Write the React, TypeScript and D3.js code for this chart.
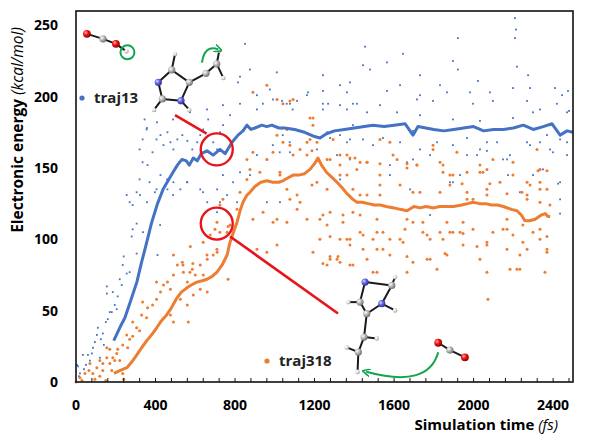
import * as d3 from "d3";
import { useEffect, useRef } from "react";

type Pt = [number, number];

// moving averages (time fs, energy kcal/mol)
const traj13Avg: Pt[] = [
  [190, 29], [220, 38], [246, 45], [275, 57], [306, 70], [330, 84], [356, 98], [381, 112],
  [410, 125], [438, 135], [463, 141], [488, 147], [510, 152], [533, 156], [555, 155], [570, 152],
  [590, 157], [610, 155], [630, 160], [659, 162], [690, 159], [724, 163], [750, 160], [785, 168],
  [815, 173], [840, 176], [860, 180], [880, 177], [900, 178], [935, 180], [960, 179], [985, 180],
  [1020, 178], [1050, 178], [1100, 177], [1150, 175], [1200, 172], [1227, 171], [1260, 174],
  [1300, 176], [1350, 177], [1400, 178], [1450, 179], [1494, 180], [1550, 179], [1600, 180],
  [1655, 181], [1695, 173], [1720, 179], [1760, 178], [1800, 177], [1850, 176], [1900, 177],
  [1950, 178], [2000, 179], [2050, 176], [2100, 177], [2150, 177], [2200, 178], [2250, 180],
  [2300, 177], [2350, 179], [2394, 181], [2435, 173], [2470, 176], [2500, 175],
];

const traj318Avg: Pt[] = [
  [191, 6], [220, 8], [256, 10], [280, 14], [306, 19], [330, 24], [356, 29], [380, 33], [406, 38],
  [430, 43], [456, 47], [480, 52], [508, 59], [530, 63], [558, 66], [580, 68], [608, 70], [635, 71],
  [659, 72], [685, 74], [709, 77], [735, 82], [760, 89], [775, 98], [790, 104], [810, 112],
  [825, 120], [840, 126], [860, 131], [875, 133], [900, 137], [930, 140], [960, 141], [990, 140],
  [1020, 140], [1041, 141], [1065, 143], [1092, 145], [1120, 145], [1150, 146], [1177, 149],
  [1200, 153], [1217, 157], [1235, 152], [1260, 147], [1290, 143], [1313, 140], [1340, 136],
  [1363, 132], [1393, 128], [1413, 126], [1440, 126], [1470, 125], [1500, 124], [1530, 124],
  [1560, 123], [1600, 122], [1630, 121], [1665, 120], [1700, 123], [1730, 122], [1760, 123],
  [1800, 122], [1830, 123], [1860, 123], [1900, 123], [1940, 124], [1970, 125], [1997, 126],
  [2030, 125], [2060, 125], [2090, 124], [2120, 124], [2150, 123], [2190, 121], [2218, 120],
  [2240, 117], [2258, 113], [2280, 113], [2310, 114], [2340, 117], [2360, 118], [2374, 116], [2385, 116],
];

// raw energies
const traj13Points: Pt[] = [
  [5, 12], [20, 6], [35, 19], [60, 19], [80, 20], [85, 24], [70, 15], [105, 33], [110, 38], [135, 34],
  [150, 42], [160, 44], [170, 49], [180, 49], [205, 51], [155, 62], [155, 67], [185, 63], [195, 54],
  [210, 60], [220, 72], [235, 82], [240, 88], [280, 102], [285, 107], [305, 90], [305, 111], [270, 77],
  [255, 76], [230, 68], [410, 89], [120, 17], [50, 12], [10, 11], [15, 4], [40, 9], [95, 28], [125, 30],
  [140, 26],
  [345, 184], [355, 177], [335, 170], [320, 163], [335, 154], [360, 152], [385, 161], [405, 170],
  [425, 173], [440, 166], [460, 175], [475, 168], [490, 163], [510, 170], [535, 173], [560, 169],
  [585, 163], [610, 168], [625, 173], [640, 177], [665, 184], [690, 168], [710, 163], [725, 175],
  [740, 180], [775, 187], [815, 210], [825, 214], [850, 237], [875, 219], [910, 191], [940, 195],
  [975, 205], [1010, 217], [1060, 195], [1090, 191],
  [255, 131], [270, 126], [285, 124], [305, 133], [320, 142], [370, 140], [405, 135], [425, 145],
  [460, 135], [490, 140], [525, 135], [560, 140], [625, 135], [660, 126], [710, 135], [760, 131],
  [790, 140], [825, 147], [910, 159], [960, 156], [990, 166], [1025, 161], [1040, 173], [1075, 168],
  [1090, 177],
  [322, 131], [357, 126], [397, 133], [458, 142], [558, 140], [488, 131], [573, 152], [639, 133],
  [739, 145], [423, 110], [337, 105], [709, 119], [724, 126], [810, 126], [875, 145], [960, 126],
  [1026, 126], [1076, 161], [1162, 168], [1212, 163], [1263, 175], [1328, 173], [1378, 156],
  [1328, 142], [1393, 180],
  [357, 178], [407, 182], [488, 184], [573, 189], [659, 191], [739, 194], [825, 195], [910, 201],
  [991, 198], [1076, 195], [1162, 201], [1242, 195], [1328, 194], [1393, 195],
  [2208, 255], [2213, 247], [2208, 241], [1921, 241], [1454, 235], [1645, 230], [1444, 222],
  [1564, 224], [1242, 215], [1479, 219], [1730, 215], [1896, 225], [1921, 219], [2274, 215],
  [2218, 221], [1328, 208], [1378, 210], [1630, 208], [1831, 208], [2022, 211], [2198, 206],
  [2284, 206], [2409, 206], [2445, 201], [2475, 204],
  [1167, 203], [1242, 204], [1363, 203], [1564, 204], [1730, 201], [1866, 203], [1982, 203], [2082, 203],
  [1036, 197], [1112, 197], [1268, 195], [1413, 195], [1529, 194], [1715, 198], [1796, 197],
  [1997, 195], [2097, 197], [2269, 197], [2419, 195],
  [1242, 191], [1363, 191], [1464, 189], [1615, 189], [1730, 187], [1896, 184], [2032, 183],
  [2198, 185], [2299, 189], [2470, 189], [2334, 191], [2480, 190], [2490, 175],
  [1278, 171], [1363, 168], [1444, 170], [1544, 171], [1630, 168], [1730, 163], [1816, 168],
  [1896, 166], [1967, 171], [2032, 163], [2118, 168], [2183, 159], [2168, 156], [2284, 166],
  [2334, 168], [2384, 163], [2435, 170], [2470, 168], [1313, 159], [1595, 159], [1967, 159],
  [2067, 162], [1932, 145], [1896, 140], [2173, 145], [2470, 159], [2425, 139], [2334, 149], [1695, 156],
  [1494, 166], [1579, 152], [1665, 154], [1680, 135], [1781, 159], [1881, 140], [1967, 147],
  [2017, 159], [2067, 168], [2148, 156], [2269, 168], [2399, 161], [2435, 140], [2435, 128],
  [2435, 118], [1363, 159], [1429, 154], [1393, 119], [1579, 145], [1781, 117], [2299, 145],
  [2349, 149], [2369, 173], [2233, 133], [1378, 170], [1695, 176],
];

const traj318Points: Pt[] = [
  [0, 0], [20, 3], [45, 6], [65, 8], [70, 13], [85, 6], [105, 10], [120, 4], [135, 8], [120, 15],
  [155, 17], [135, 13], [170, 13], [185, 17], [205, 20], [195, 15], [220, 15], [155, 24], [170, 23],
  [210, 23], [235, 6], [235, 26], [260, 24], [270, 30], [285, 32], [255, 33], [305, 38], [320, 36],
  [285, 42], [330, 47], [355, 45], [335, 56], [360, 52], [385, 54], [405, 58], [425, 63], [440, 68],
  [405, 70], [460, 70], [475, 65], [490, 75], [510, 82], [490, 89], [535, 84], [540, 77], [560, 70],
  [585, 79], [600, 75], [625, 82], [640, 75], [660, 86], [690, 89], [560, 54], [565, 42], [490, 42],
  [475, 47], [525, 58], [590, 61], [625, 65], [660, 63], [710, 91], [760, 105], [775, 110], [765, 72],
  [640, 98], [675, 103], [575, 95], [30, 1], [95, 2], [150, 1], [240, 2], [180, 8],
  [538, 82], [573, 77], [588, 83], [659, 89], [709, 93], [709, 112], [699, 107], [724, 105],
  [765, 109], [739, 128], [724, 124], [825, 133], [810, 121], [860, 142], [875, 149], [860, 156],
  [890, 161], [925, 147], [960, 156], [991, 161], [1011, 173], [1041, 168], [1061, 177], [1092, 159],
  [1162, 159], [1177, 170], [1192, 180], [1026, 145], [1061, 135], [1112, 131], [890, 114],
  [941, 119], [991, 112], [1011, 114], [1112, 121], [1162, 114], [1227, 114], [1263, 110],
  [1011, 96], [1227, 100], [1192, 91], [1278, 86], [1313, 86], [1263, 82], [1378, 82], [1328, 100],
  [1378, 100], [910, 93], [960, 91], [1061, 112], [1343, 117], [1393, 119], [1263, 135], [1328, 145],
  [1263, 156], [1328, 159], [1413, 149], [1293, 170],
  [890, 203], [960, 208], [1011, 198], [1041, 195], [1092, 198], [1076, 197], [1177, 185],
  [1192, 185], [1036, 178], [1076, 166], [1127, 163], [1162, 168], [1187, 162], [1212, 168],
  [1026, 147], [1187, 138], [1212, 140], [1278, 156], [1328, 152], [1378, 157], [1429, 154],
  [1464, 154], [1529, 170], [1579, 168], [1529, 145], [1615, 156], [1665, 150], [1715, 152],
  [1796, 163], [1846, 152], [1896, 145], [1942, 139], [2032, 147], [2067, 149], [2133, 140],
  [2198, 145], [2269, 140], [2324, 148], [2334, 140], [2369, 135], [2384, 124], [2334, 126],
  [2269, 131], [2067, 131], [1967, 128], [1831, 133], [1695, 133], [1529, 131], [1429, 131],
  [1242, 117], [1278, 119], [1127, 126], [1076, 128],
  [1328, 84], [1393, 82], [1378, 96], [1429, 105], [1494, 100], [1544, 105], [1579, 100],
  [1630, 100], [1655, 107], [1695, 112], [1745, 105], [1781, 100], [1831, 105], [1881, 105],
  [1932, 105], [1997, 107], [2067, 96], [2097, 105], [2168, 107], [2198, 103], [2248, 98],
  [2334, 100], [2369, 93], [2233, 89], [2168, 93], [2032, 86], [1866, 89], [1781, 86], [1695, 84],
  [1579, 89], [1514, 93], [1464, 86], [1343, 112], [1429, 117], [1514, 114], [1665, 114],
  [1745, 112], [1866, 112], [1947, 112], [2168, 114], [2248, 110], [2334, 107], [2218, 79],
  [2233, 79], [2359, 77], [1665, 77], [1816, 79], [1494, 77],
  [1363, 159], [1403, 157], [1464, 154], [1529, 153], [1595, 159], [1665, 153], [1715, 152],
  [1796, 166], [1831, 154], [1846, 147], [1881, 145], [1916, 161], [1967, 147], [2032, 152],
  [2047, 147], [2082, 139], [2097, 156], [2198, 154], [2334, 149], [2369, 148], [2319, 163],
  [2284, 138], [2243, 133], [2168, 132], [2067, 135], [1997, 128], [1967, 133], [1881, 138],
  [1730, 133], [1630, 138], [1529, 138], [1464, 131], [1393, 135], [1363, 145], [2269, 128],
  [2334, 135],
  [1278, 102], [1363, 100], [1444, 103], [1514, 105], [1645, 98], [1766, 103], [1846, 100],
  [1896, 105], [1947, 104], [2017, 95], [2067, 98], [2148, 107], [2299, 105], [2369, 102],
  [1242, 83], [1278, 88], [1318, 88], [1514, 77], [2067, 77], [2183, 79], [2072, 58], [1444, 93],
  [1544, 93], [1665, 88], [1766, 86], [1856, 90], [1947, 96], [2269, 93], [2369, 91],
];

const xTickValues = [0, 400, 800, 1200, 1600, 2000, 2400];
const yTickValues = [0, 50, 100, 150, 200, 250];

const BLUE = "#4472C4";
const ORANGE = "#ED7D31";
const RED = "#E8141C";
const GREEN = "#12A550";

type Atom = { id: string; el: "C" | "H" | "N" | "O"; dx: number; dy: number };
type Molecule = { at: Pt; atoms: Atom[]; bonds: [string, string][] };

// molecule sketches, anchored at a (time, energy) spot, atoms offset in px
const molecules: Molecule[] = [
  {
    at: [55, 244],
    atoms: [
      { id: "o1", el: "O", dx: 0, dy: 0 },
      { id: "c", el: "C", dx: 16, dy: 5 },
      { id: "o2", el: "O", dx: 29, dy: 10 },
      { id: "h", el: "H", dx: 39.5, dy: 17.5 },
    ],
    bonds: [["o1", "c"], ["c", "o2"], ["o2", "h"]],
  },
  {
    at: [414, 210],
    atoms: [
      { id: "ht", el: "H", dx: 16.7, dy: -28.4 },
      { id: "ct", el: "C", dx: 13.4, dy: -12.4 },
      { id: "cr", el: "C", dx: 31, dy: 0 },
      { id: "nl", el: "N", dx: 0, dy: 0 },
      { id: "cb", el: "C", dx: 4, dy: 16.6 },
      { id: "nr", el: "N", dx: 22.7, dy: 18.3 },
      { id: "hn", el: "H", dx: 31, dy: 27.6 },
      { id: "hb", el: "H", dx: -4.3, dy: 27.6 },
      { id: "c1", el: "C", dx: 47.7, dy: -9 },
      { id: "c2", el: "C", dx: 58.4, dy: -18.4 },
      { id: "h2a", el: "H", dx: 61, dy: -31.7 },
      { id: "h2b", el: "H", dx: 65, dy: -4.4 },
    ],
    bonds: [
      ["ct", "nl"], ["nl", "cb"], ["cb", "nr"], ["nr", "cr"], ["cr", "ct"], ["ct", "ht"],
      ["nr", "hn"], ["cb", "hb"], ["cr", "c1"], ["c1", "c2"], ["c2", "h2a"], ["c2", "h2b"],
    ],
  },
  {
    at: [1454, 70],
    atoms: [
      { id: "nt", el: "N", dx: 0, dy: 0 },
      { id: "ctr", el: "C", dx: 26.7, dy: 3.3 },
      { id: "ht", el: "H", dx: 30, dy: -5 },
      { id: "nr", el: "N", dx: 16.7, dy: 21.6 },
      { id: "hn", el: "H", dx: 30, dy: 28.3 },
      { id: "cl", el: "C", dx: -5, dy: 20 },
      { id: "hl", el: "H", dx: -16.7, dy: 20 },
      { id: "cb", el: "C", dx: 1.7, dy: 31.6 },
      { id: "c1", el: "C", dx: -1, dy: 55 },
      { id: "h1", el: "H", dx: 11.7, dy: 56.3 },
      { id: "c2", el: "C", dx: -6.7, dy: 70 },
      { id: "h2", el: "H", dx: -18.3, dy: 65.3 },
      { id: "he", el: "H", dx: -7.5, dy: 89.8 },
    ],
    bonds: [
      ["nt", "ctr"], ["ctr", "nr"], ["nr", "cb"], ["cb", "cl"], ["cl", "nt"], ["ctr", "ht"],
      ["nr", "hn"], ["cl", "hl"], ["cb", "c1"], ["c1", "h1"], ["c1", "c2"], ["c2", "h2"], ["c2", "he"],
    ],
  },
  {
    at: [1822, 27.5],
    atoms: [
      { id: "o1", el: "O", dx: 0, dy: 0 },
      { id: "c", el: "C", dx: 11.7, dy: 7.3 },
      { id: "o2", el: "O", dx: 26.7, dy: 14.6 },
    ],
    bonds: [["o1", "c"], ["c", "o2"]],
  },
];

const atomStyle: Record<string, { r: number; fill: string }> = {
  C: { r: 3.6, fill: "url(#gC)" },
  H: { r: 2.3, fill: "url(#gH)" },
  N: { r: 3.6, fill: "url(#gN)" },
  O: { r: 3.9, fill: "url(#gO)" },
};

// red highlight circles and connector lines, in (time, energy)
const highlightCircles: Pt[] = [[708, 163], [708, 111]];
const connectorLines: [Pt, Pt][] = [
  [[498, 187], [657, 174]],
  [[775, 102], [1318, 48]],
];

const Chart: React.FC = () => {
  const ref = useRef<SVGSVGElement | null>(null);

  useEffect(() => {
    if (!ref.current) return;
    const svg = d3.select(ref.current);
    svg.selectAll("*").remove();

    const x = d3.scaleLinear().domain([0, 2500]).range([76, 573]);
    const y = d3.scaleLinear().domain([0, 260]).range([382, 11]);
    const font = "'Open Sans', 'Noto Sans', sans-serif";

    const defs = svg.append("defs");
    const grad = (id: string, hi: string, mid: string, lo: string) => {
      const g = defs.append("radialGradient").attr("id", id).attr("cx", "35%").attr("cy", "35%").attr("r", "70%");
      g.append("stop").attr("offset", "0%").attr("stop-color", hi);
      g.append("stop").attr("offset", "45%").attr("stop-color", mid);
      g.append("stop").attr("offset", "100%").attr("stop-color", lo);
    };
    grad("gC", "#ffffff", "#b8b8b8", "#6a6a6a");
    grad("gH", "#ffffff", "#e4e4e4", "#9a9a9a");
    grad("gN", "#d8d8ff", "#6464e0", "#2a2a90");
    grad("gO", "#ffb0b0", "#ee1010", "#8a0000");

    defs
      .append("marker")
      .attr("id", "arrowG")
      .attr("viewBox", "0 0 10 10")
      .attr("refX", 5)
      .attr("refY", 5)
      .attr("markerWidth", 4)
      .attr("markerHeight", 4)
      .attr("orient", "auto-start-reverse")
      .append("path")
      .attr("d", "M0,0 L10,5 L0,10")
      .attr("fill", "none")
      .attr("stroke", GREEN)
      .attr("stroke-width", 2);

    // scatter
    svg
      .append("g")
      .selectAll("rect")
      .data(traj13Points)
      .join("rect")
      .attr("x", (d) => x(d[0]) - 0.9)
      .attr("y", (d) => y(d[1]) - 0.9)
      .attr("width", 1.8)
      .attr("height", 1.8)
      .attr("fill", BLUE);

    svg
      .append("g")
      .selectAll("circle")
      .data(traj318Points)
      .join("circle")
      .attr("cx", (d) => x(d[0]))
      .attr("cy", (d) => y(d[1]))
      .attr("r", 1.5)
      .attr("fill", ORANGE);

    const line = d3
      .line<Pt>()
      .x((d) => x(d[0]))
      .y((d) => y(d[1]));

    svg.append("path").datum(traj13Avg).attr("d", line).attr("fill", "none")
      .attr("stroke", BLUE).attr("stroke-width", 3).attr("stroke-linejoin", "round");
    svg.append("path").datum(traj318Avg).attr("d", line).attr("fill", "none")
      .attr("stroke", ORANGE).attr("stroke-width", 3).attr("stroke-linejoin", "round");

    // frame
    svg.append("rect").attr("x", 76).attr("y", 11).attr("width", 497).attr("height", 371)
      .attr("fill", "none").attr("stroke", "#111").attr("stroke-width", 1.6);

    // minor ticks on the x axis, pointing in
    svg
      .append("g")
      .selectAll("line")
      .data(d3.range(80, 2500, 80))
      .join("line")
      .attr("x1", (d) => x(d))
      .attr("x2", (d) => x(d))
      .attr("y1", 382)
      .attr("y2", 378)
      .attr("stroke", "#111")
      .attr("stroke-width", 1);

    svg
      .append("g")
      .selectAll("text")
      .data(xTickValues)
      .join("text")
      .attr("x", (d) => x(d))
      .attr("y", 410)
      .attr("text-anchor", "middle")
      .attr("font-family", font)
      .attr("font-weight", 700)
      .attr("font-size", 14)
      .text((d) => d);

    svg
      .append("g")
      .selectAll("text")
      .data(yTickValues)
      .join("text")
      .attr("x", 58)
      .attr("y", (d) => y(d) + 5)
      .attr("text-anchor", "end")
      .attr("font-family", font)
      .attr("font-weight", 700)
      .attr("font-size", 14)
      .text((d) => d);

    // axis titles
    const xt = svg.append("text").attr("x", 558).attr("y", 430).attr("text-anchor", "end")
      .attr("font-family", font).attr("font-size", 15);
    xt.append("tspan").attr("font-weight", 700).text("Simulation time ");
    xt.append("tspan").attr("font-style", "italic").text("(fs)");

    const yt = svg.append("text").attr("transform", "translate(23,130) rotate(-90)")
      .attr("text-anchor", "middle").attr("font-family", font).attr("font-size", 15.5);
    yt.append("tspan").attr("font-weight", 700).text("Electronic energy ");
    yt.append("tspan").attr("font-style", "italic").text("(kcal/mol)");

    // legend labels
    const legend = [
      { name: "traj13", color: BLUE, at: [82, 98] },
      { name: "traj318", color: ORANGE, at: [267, 361] },
    ];
    legend.forEach((l) => {
      svg.append("circle").attr("cx", l.at[0]).attr("cy", l.at[1]).attr("r", 2.6).attr("fill", l.color);
      svg.append("text").attr("x", l.at[0] + 12).attr("y", l.at[1] + 5).attr("font-family", font)
        .attr("font-weight", 700).attr("font-size", 15).attr("fill", "#222").text(l.name);
    });

    // molecules
    molecules.forEach((m) => {
      const ox = x(m.at[0]);
      const oy = y(m.at[1]);
      const pos = new Map(m.atoms.map((a) => [a.id, [ox + a.dx, oy + a.dy]]));
      const g = svg.append("g");
      g.selectAll("line")
        .data(m.bonds)
        .join("line")
        .attr("x1", (b) => pos.get(b[0])![0])
        .attr("y1", (b) => pos.get(b[0])![1])
        .attr("x2", (b) => pos.get(b[1])![0])
        .attr("y2", (b) => pos.get(b[1])![1])
        .attr("stroke", "#1a1a1a")
        .attr("stroke-width", 2);
      g.selectAll("circle")
        .data(m.atoms)
        .join("circle")
        .attr("cx", (a) => ox + a.dx)
        .attr("cy", (a) => oy + a.dy)
        .attr("r", (a) => atomStyle[a.el].r)
        .attr("fill", (a) => atomStyle[a.el].fill);
    });

    // green marks: ring around H, rotation arrow, transfer arrow
    const m0x = x(molecules[0].at[0]);
    const m0y = y(molecules[0].at[1]);
    svg.append("circle").attr("cx", m0x + 40.5).attr("cy", m0y + 18.5).attr("r", 7)
      .attr("fill", "none").attr("stroke", GREEN).attr("stroke-width", 2);

    const m1x = x(molecules[1].at[0]);
    const m1y = y(molecules[1].at[1]);
    svg.append("path")
      .attr("d", `M${m1x + 43.7},${m1y - 19.7} Q${m1x + 46},${m1y - 38} ${m1x + 60},${m1y - 33}`)
      .attr("fill", "none").attr("stroke", GREEN).attr("stroke-width", 2).attr("marker-end", "url(#arrowG)");

    const m3x = x(molecules[3].at[0]);
    const m3y = y(molecules[3].at[1]);
    svg.append("path")
      .attr("d", `M${m3x},${m3y + 9.5} Q${m3x - 10},${m3y + 46} ${m3x - 72},${m3y + 29}`)
      .attr("fill", "none").attr("stroke", GREEN).attr("stroke-width", 2).attr("marker-end", "url(#arrowG)");

    // red highlights
    svg.append("g").selectAll("line").data(connectorLines).join("line")
      .attr("x1", (d) => x(d[0][0])).attr("y1", (d) => y(d[0][1]))
      .attr("x2", (d) => x(d[1][0])).attr("y2", (d) => y(d[1][1]))
      .attr("stroke", RED).attr("stroke-width", 2.6);
    svg.append("g").selectAll("circle").data(highlightCircles).join("circle")
      .attr("cx", (d) => x(d[0])).attr("cy", (d) => y(d[1])).attr("r", 16)
      .attr("fill", "none").attr("stroke", RED).attr("stroke-width", 2.4);
  }, []);

  return (
    <svg
      ref={ref}
      width={597}
      height={445}
      style={{ position: "absolute", left: 0, top: 0, background: "#fff" }}
    />
  );
};

export default function App() {
  return <Chart />;
}
